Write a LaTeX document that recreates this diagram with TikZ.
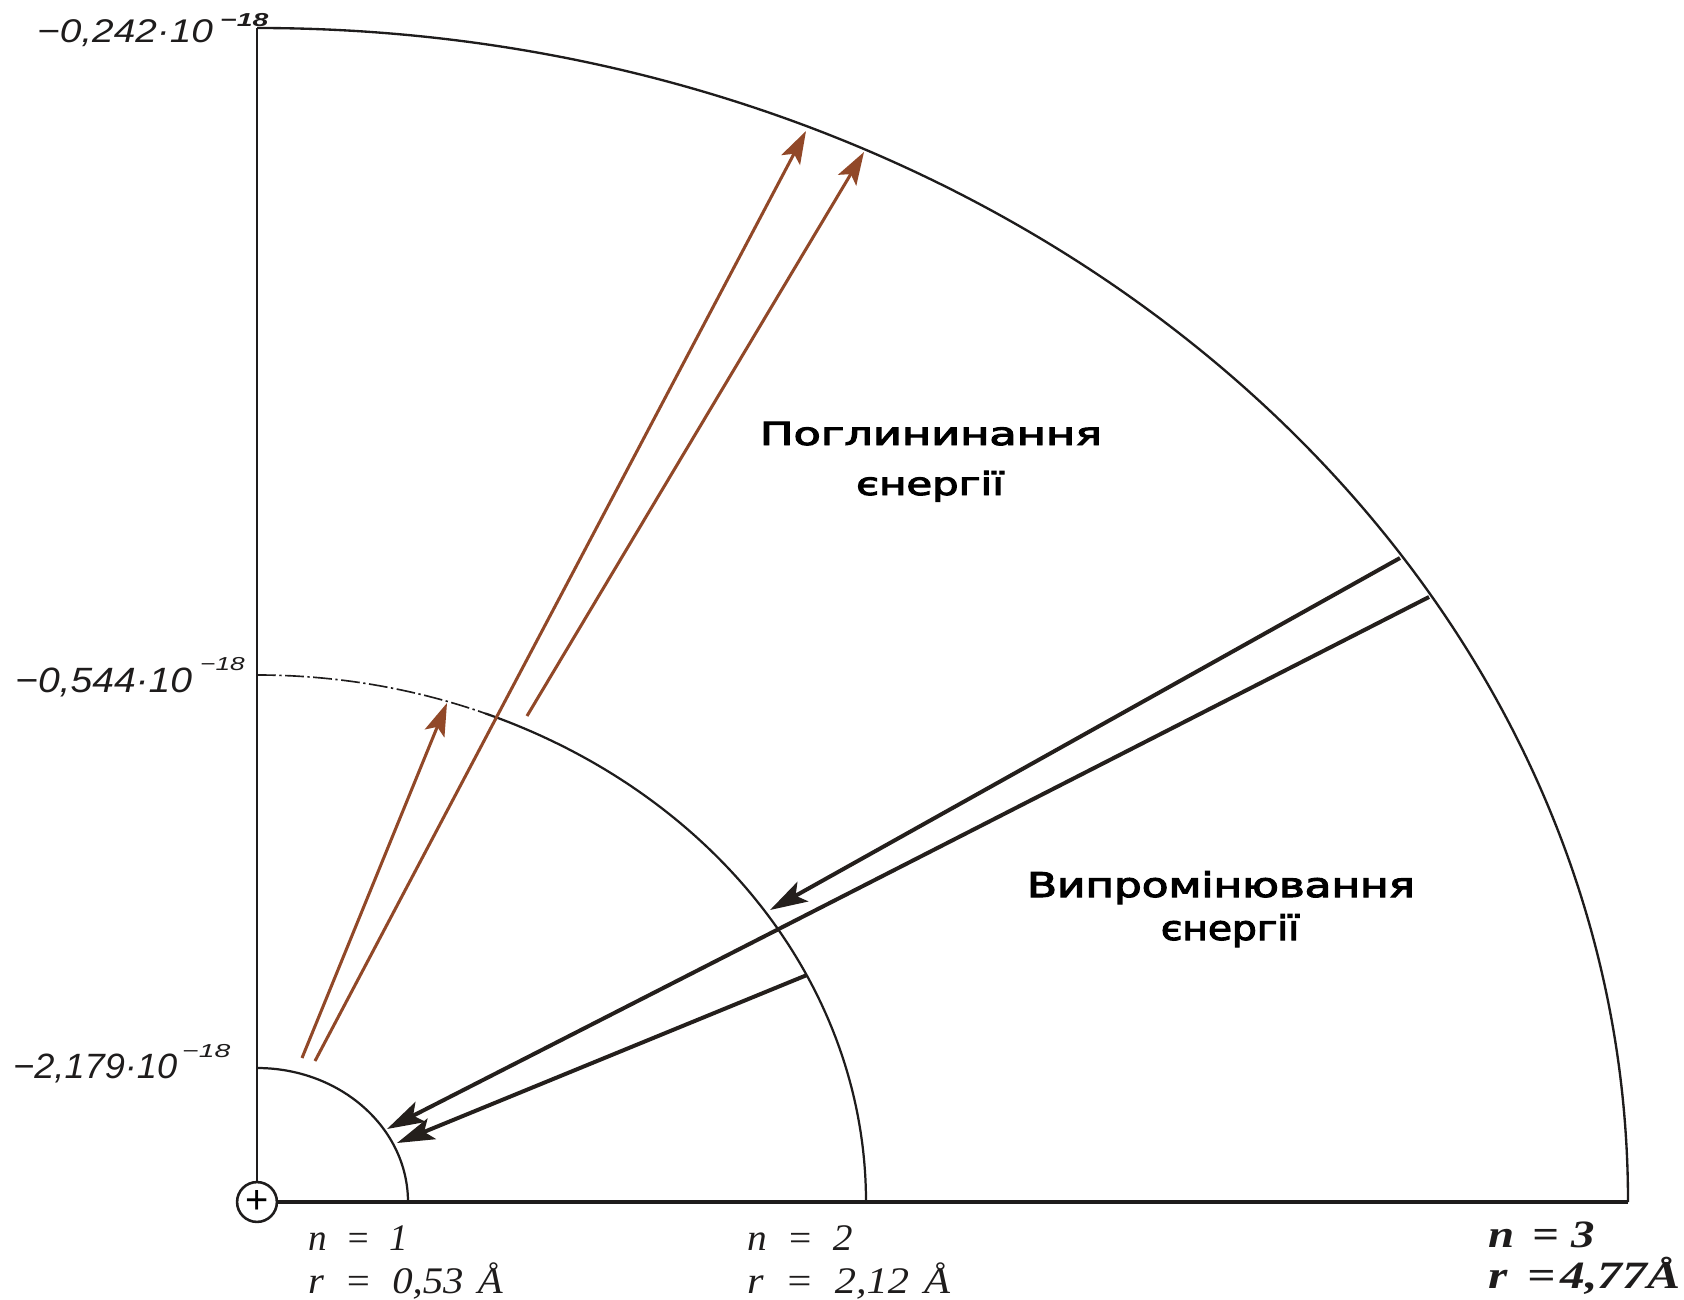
\documentclass[tikz,border=0pt]{standalone}
\usepackage{fontspec}
\usepackage{graphicx}
\setmainfont{Liberation Serif}
\newfontfamily\axfont{Liberation Sans}
\newfontfamily\cyrfont{DejaVu Sans}[FakeBold=3]
\usetikzlibrary{arrows.meta}

\definecolor{absorbc}{RGB}{145,72,40}
\definecolor{emitc}{RGB}{36,31,28}
\definecolor{inkc}{RGB}{30,28,28}

\newcommand{\hstr}[2]{\resizebox{#1}{\height}{#2}}

\tikzset{
  axisline/.style={draw=inkc, line width=2.4pt},
  orbit/.style={draw=inkc, line width=1.9pt},
  outerorbit/.style={draw=inkc, line width=2.0pt},
  absorbarrow/.style={draw=absorbc, line width=2.6pt, -{Stealth[length=28pt,width=18pt,inset=6pt]}},
  emitarrow/.style={draw=emitc, line width=3.4pt, -{Stealth[length=32pt,width=19pt,inset=7pt]}},
  axlabel/.style={inner sep=0pt, anchor=base west, font=\axfont\itshape\fontsize{30pt}{34pt}\selectfont, text=inkc},
  suplabel/.style={inner sep=0pt, anchor=base west, font=\axfont\itshape\fontsize{16pt}{18pt}\selectfont, text=inkc},
  orblabel/.style={inner sep=0pt, anchor=base west, font=\itshape\fontsize{32pt}{36pt}\selectfont, text=inkc},
  boldorblabel/.style={orblabel, font=\bfseries\itshape\fontsize{33pt}{36pt}\selectfont},
  cyrlabel/.style={inner sep=0pt, anchor=base, text=black},
  plusnode/.style={circle, draw=inkc, line width=2.2pt, minimum size=34pt, inner sep=0pt,
    font=\axfont\fontsize{34pt}{34pt}\selectfont}
}

\begin{document}
\begin{tikzpicture}[x=0.03cm, y=-0.03cm]
\fill[white] (0,0) rectangle (1684,1300);
\useasboundingbox (0,0) rectangle (1684,1300);

% centre and axes
\coordinate (O) at (257,1202);
\coordinate (top) at (257,28);
\coordinate (right) at (1628,1202);
\node[plusnode] (P) at (O) {+};
\draw[axisline] (P) -- (top);
\draw[axisline, line width=2.8pt] (P) -- (right);

% orbits (quarter ellipses)
\draw[orbit] (O) ++(151,0) arc[start angle=0, end angle=-90, x radius=151, y radius=134];
\draw[orbit] (O) ++(609,0) arc[start angle=0, end angle=-68, x radius=609, y radius=527];
\draw[orbit, line width=1.4pt, dash pattern=on 16pt off 3pt on 2pt off 3pt]
  (O) ++(0,-527) arc[start angle=-90, end angle=-68, x radius=609, y radius=527];
\draw[outerorbit] (O) ++(1371,0) arc[start angle=0, end angle=-90, x radius=1371, y radius=1174];

% energy labels
\node[axlabel, font=\axfont\itshape\fontsize{28pt}{32pt}\selectfont] (L1) at (37,43) {\hstr{150pt}{−0,242·10}};
\node[suplabel, font=\axfont\itshape\bfseries\fontsize{16pt}{18pt}\selectfont] (L1s) at (220,27) {\hstr{41pt}{−18}};
\node[axlabel] (L2) at (15,692) {\hstr{151pt}{−0,544·10}};
\node[suplabel] (L2s) at (200,670) {\hstr{38pt}{−18}};
\node[axlabel] (L3) at (13,1078) {\hstr{140pt}{−2,179·10}};
\node[suplabel] (L3s) at (182,1057) {\hstr{41pt}{−18}};

% orbit labels
\node[orblabel] (n1) at (308,1250) {\hstr{85pt}{n\hspace{0.5em}=\hspace{0.5em}1}};
\node[orblabel] (r1) at (308,1293) {\hstr{166pt}{r\hspace{0.5em}=\hspace{0.5em}0,53\hspace{0.35em}Å}};
\node[orblabel] (n2) at (747,1250) {\hstr{90pt}{n\hspace{0.5em}=\hspace{0.5em}2}};
\node[orblabel] (r2) at (747,1293) {\hstr{173pt}{r\hspace{0.5em}=\hspace{0.5em}2,12\hspace{0.35em}Å}};
\node[boldorblabel] (n3) at (1488,1247) {\hstr{91pt}{n\hspace{0.4em}=\hspace{0.25em}3}};
\node[boldorblabel] (r3) at (1488,1288) {\hstr{164pt}{r\hspace{0.4em}=\hspace{0.1em}4,77Å}};

% process labels
\node[cyrlabel, font=\cyrfont\fontsize{27pt}{32pt}\selectfont] (abs1) at (931,445) {\hstr{292pt}{Поглининання}};
\node[cyrlabel, font=\cyrfont\fontsize{27pt}{32pt}\selectfont] (abs2) at (930,495) {\hstr{126pt}{єнергії}};
\node[cyrlabel, font=\cyrfont\fontsize{29pt}{34pt}\selectfont] (emi1) at (1221,897) {\hstr{331pt}{Випромінювання}};
\node[cyrlabel, font=\cyrfont\fontsize{29pt}{34pt}\selectfont] (emi2) at (1230,940) {\hstr{118pt}{єнергії}};

% absorption arrows
\coordinate (a1s) at (302,1058); \coordinate (a1e) at (447,703);
\coordinate (a2s) at (315,1061); \coordinate (a2e) at (806,131);
\coordinate (a3s) at (527,716);  \coordinate (a3e) at (864,152);
\draw[absorbarrow] (a1s) -- (a1e);
\draw[absorbarrow] (a2s) -- (a2e);
\draw[absorbarrow] (a3s) -- (a3e);

% emission arrows
\coordinate (e1s) at (1400,558); \coordinate (e1e) at (770,910);
\coordinate (e2s) at (1429,597); \coordinate (e2e) at (387,1129);
\coordinate (e3s) at (807,975);  \coordinate (e3e) at (397,1143);
\draw[emitarrow] (e1s) -- (e1e);
\draw[emitarrow] (e2s) -- (e2e);
\draw[emitarrow] (e3s) -- (e3e);
\end{tikzpicture}
\end{document}
